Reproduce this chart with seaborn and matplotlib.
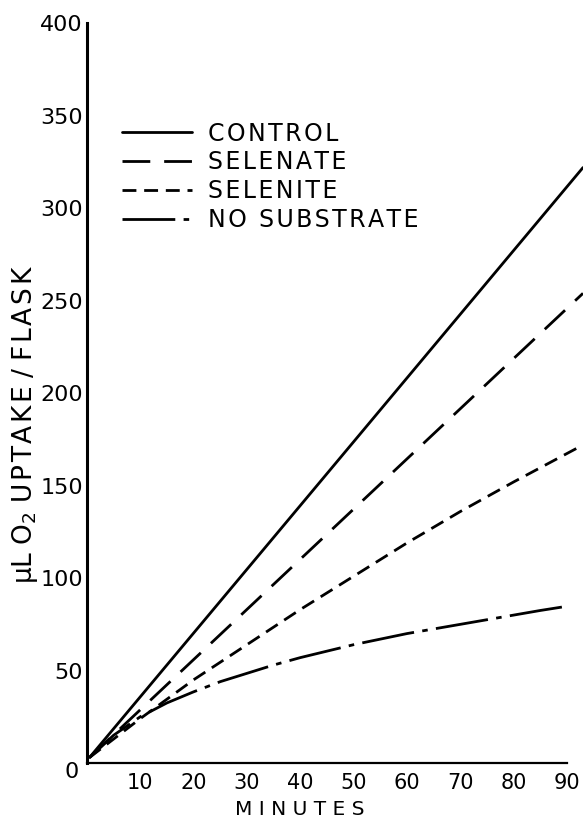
import numpy as np
import pandas as pd
import matplotlib.pyplot as plt
import seaborn as sns

sns.set_style('white')
plt.rcParams['font.family'] = ['DejaVu Sans']
plt.rcParams['text.color'] = 'black'
plt.rcParams['axes.labelcolor'] = 'black'
plt.rcParams['xtick.color'] = 'black'
plt.rcParams['ytick.color'] = 'black'

# valores
minutos_recta = [0.5, 93]
control = [3, 322]
selenato = [3, 254]
minutos_curva = [0.5, 10, 20, 30, 40, 50, 60, 70, 80, 93]
selenito = [3, 24, 45, 64, 83, 101, 119, 136, 152, 172]
minutos_sin = [0.5, 5, 10, 15, 20, 25, 30, 35, 40, 45, 50, 55, 60, 65,
               70, 75, 80, 85, 90.5]
sin_sustrato = [3, 15, 25, 32.5, 38.5, 44, 48.5, 53, 57, 60.5, 64, 67, 70,
                72.5, 75, 77.5, 80, 82.5, 85]

y_ticks = [50, 100, 150, 200, 250, 300, 350, 400]
x_ticks = [10, 20, 30, 40, 50, 60, 70, 80, 90]

series = [
    ('CONTROL', minutos_recta, control, None),
    ('SELENATE', minutos_recta, selenato, (10, 5)),
    ('SELENITE', minutos_curva, selenito, (5, 2.8)),
    ('NO SUBSTRATE', minutos_sin, sin_sustrato, (19, 3, 2, 3)),
]


def espaciado(texto):
    # letras algo separadas, como en el original
    return '\u200a'.join(texto)


fig = plt.figure(figsize=(5.83, 8.21), dpi=100)
ax = fig.add_axes([0.149, 0.0706, 0.851, 0.901])

for nombre, xs, ys, dash in series:
    df = pd.DataFrame({'x': xs, 'y': ys})
    kw = {}
    if dash is not None:
        kw['dashes'] = dash
    sns.lineplot(data=df, x='x', y='y', ax=ax, color='black', linewidth=2,
                 label=espaciado(nombre), **kw)

ax.set_xlim(0, 93)
ax.set_ylim(0, 400)
ax.set_xticks(x_ticks)
ax.set_yticks(y_ticks)
ax.set_xticklabels([str(t) for t in x_ticks], fontsize=15)
ax.set_yticklabels([str(t) for t in y_ticks], fontsize=16)
ax.tick_params(axis='both', length=0)
ax.tick_params(axis='y', pad=3)
ax.tick_params(axis='x', pad=7)

for lado in ['top', 'right']:
    ax.spines[lado].set_visible(False)
ax.spines['left'].set_linewidth(2.2)
ax.spines['bottom'].set_linewidth(1.6)
ax.spines['left'].set_color('black')
ax.spines['bottom'].set_color('black')
ax.spines['bottom'].set_bounds(0, 90)

ax.text(-0.03, -0.012, '0', transform=ax.transAxes, fontsize=16,
        ha='center', va='center')

ax.set_xlabel('M I N U T E S', fontsize=14.5)
ax.xaxis.set_label_coords(0.43, -0.05)
ax.set_ylabel('µL O$_2$ ' + espaciado('UPTAKE') + ' / ' + espaciado('FLASK'),
              fontsize=19)
ax.yaxis.set_label_coords(-0.094, 0.458)

ax.legend(loc='upper left', bbox_to_anchor=(0.07, 0.867), frameon=False,
          fontsize=17, handlelength=3.0, handletextpad=0.64,
          labelspacing=0.2, borderaxespad=0, borderpad=0)

fig.savefig('out.png', dpi=100)
